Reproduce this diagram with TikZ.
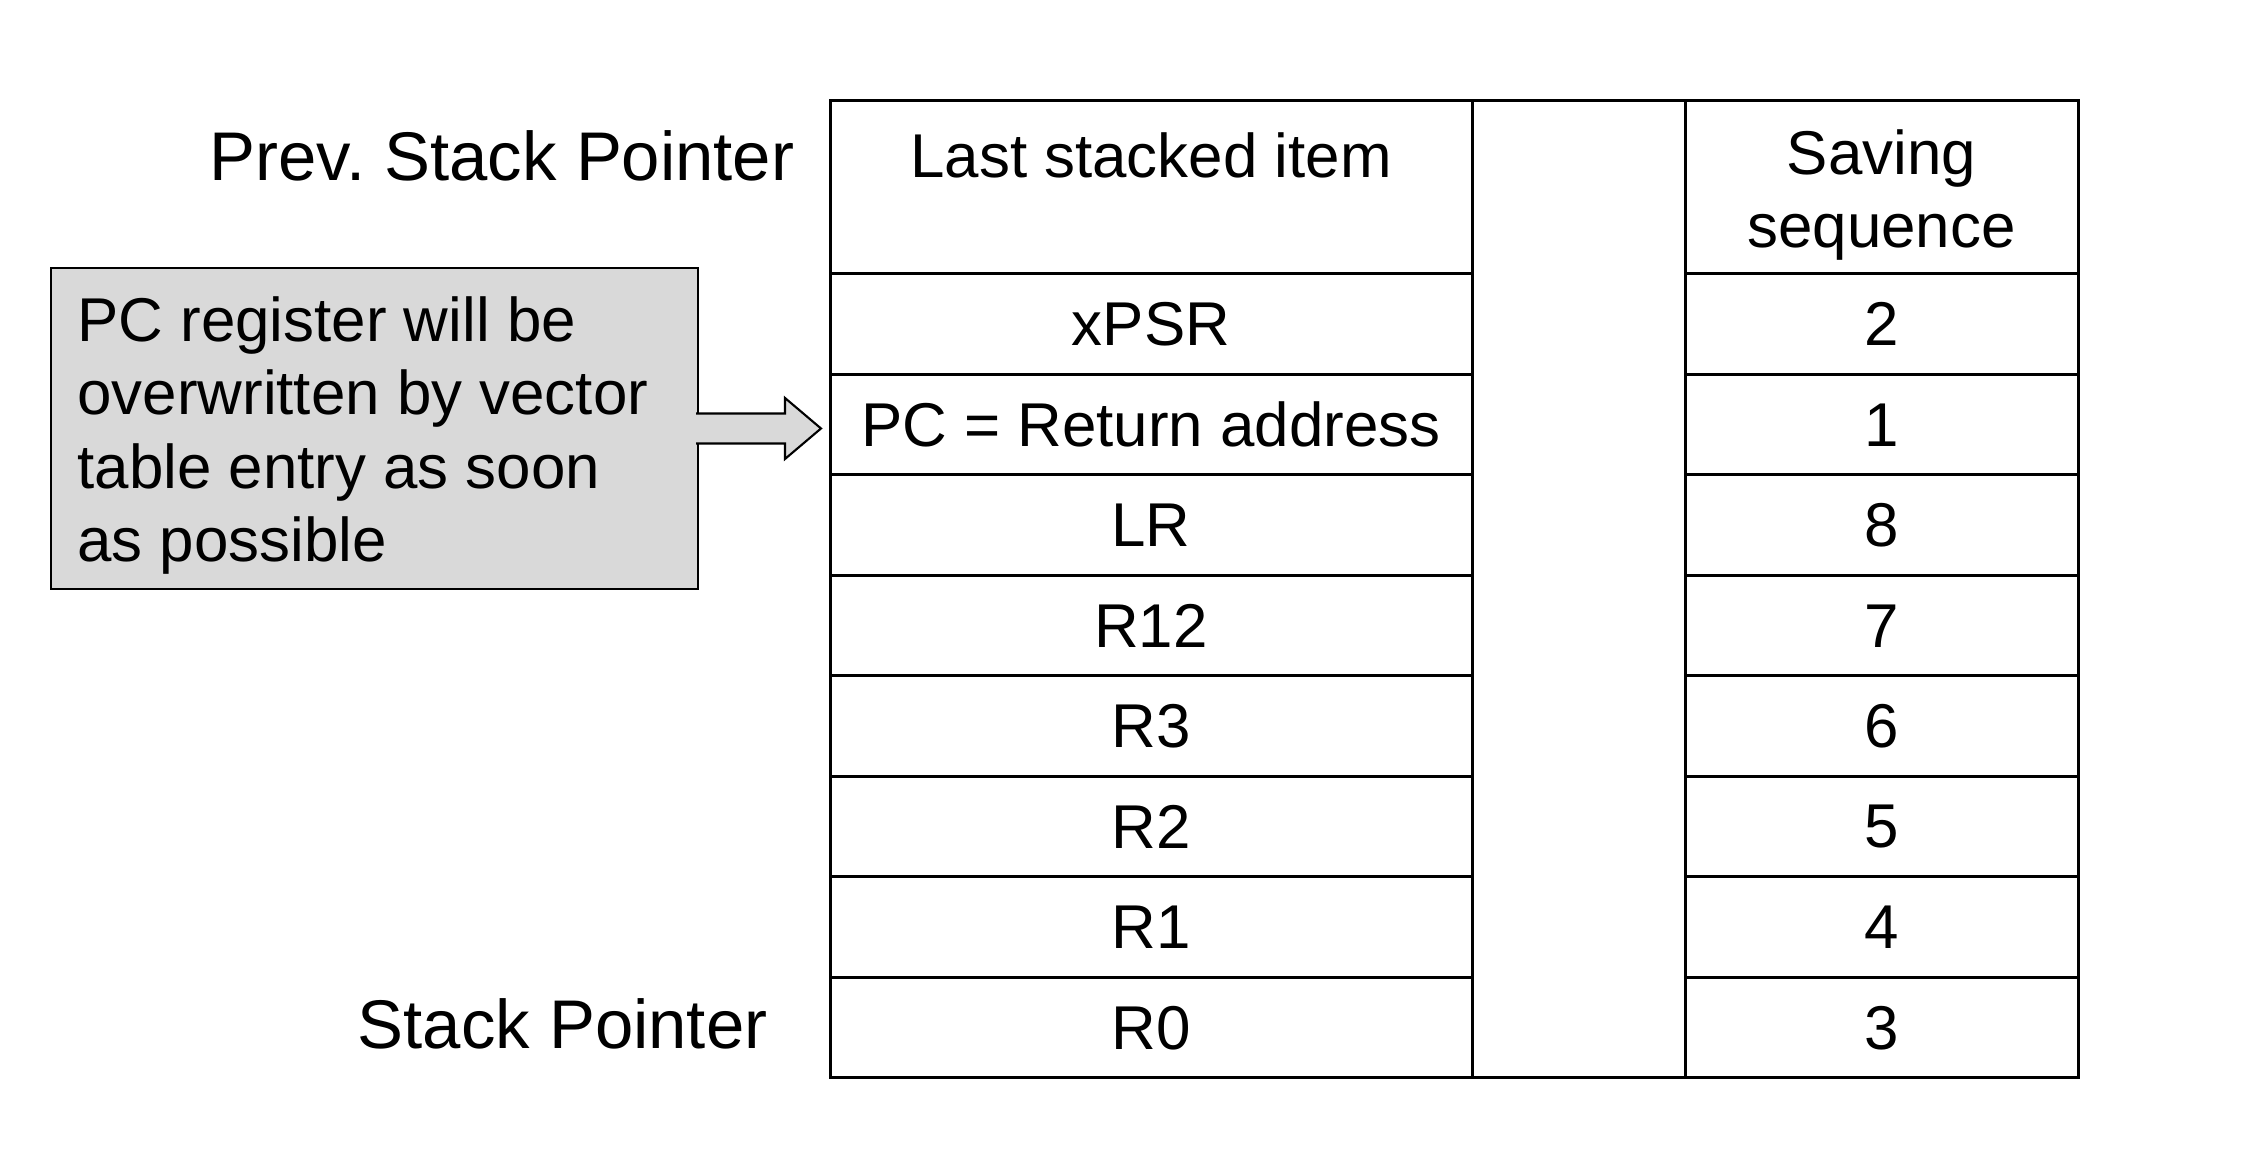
\documentclass[tikz,border=0pt]{standalone}
\usepackage{fontspec}
\setmainfont{Liberation Sans}
\usetikzlibrary{positioning, calc}
\definecolor{boxgray}{HTML}{D9D9D9}

\begin{document}
\begin{tikzpicture}[
    cell/.style={draw, line width=0.85pt, inner sep=0pt, outer sep=0pt, minimum height=1.005cm},
    itemcell/.style={cell, minimum width=6.42cm},
    seqcell/.style={cell, minimum width=3.93cm},
    tabtext/.style={font=\fontsize{17.6pt}{20.9pt}\selectfont},
    sptext/.style={font=\fontsize{19.6pt}{23pt}\selectfont, inner sep=0pt},
    notebox/.style={draw, line width=0.7pt, fill=boxgray, minimum width=6.47cm, minimum height=3.21cm, inner sep=0pt},
    blockarrow/.style={draw, line width=0.6pt, fill=boxgray}
]
\useasboundingbox (0,0) rectangle (22.45,11.58);

% header row and the empty middle column
\node[itemcell, minimum height=1.73cm] (hitem) at (11.51,9.705) {};
\node[cell, minimum width=2.13cm, minimum height=9.77cm] (gap) at (15.785,5.685) {};
\node[seqcell, minimum height=1.73cm] (hseq) at (18.815,9.705) {};
\node[tabtext, anchor=north, inner sep=0pt] (hitemtxt) at ([yshift=-0.31cm]hitem.north) {Last stacked item};
\node[tabtext, anchor=north, inner sep=0pt, align=center] (hseqtxt) at ([yshift=-0.28cm]hseq.north) {Saving\\sequence};

% stacked registers
\foreach \reg/\seq [count=\i] in {xPSR/2, PC = Return address/1, LR/8, R12/7, R3/6, R2/5, R1/4, R0/3} {
    \node[itemcell, tabtext] (item\i) at (11.51, 8.84-1.005*\i+0.5025) {\reg};
    \node[seqcell, tabtext] (seq\i) at (18.815, 8.84-1.005*\i+0.5025) {\seq};
}

\node[sptext, anchor=base east] (prevsp) at (7.95,9.77) {Prev.\ Stack Pointer};
\node[sptext, anchor=base west] (sp) at (3.57,1.09) {Stack Pointer};

% note with block arrow
\node[notebox] (note) at (3.745,7.295) {};
\node[tabtext, anchor=north west, inner sep=0pt, align=left] (notetxt) at ([xshift=0.27cm, yshift=-0.29cm]note.north west) {PC register will be\\overwritten by vector\\table entry as soon\\as possible};
\path (note.east -| item2.west) ++(-0.09,0) coordinate (tip);
\draw[blockarrow] ([xshift=-0.03cm, yshift=0.15cm]note.east) -- ([xshift=-0.36cm, yshift=0.15cm]tip)
    -- ([xshift=-0.36cm, yshift=0.305cm]tip) -- (tip) -- ([xshift=-0.36cm, yshift=-0.305cm]tip)
    -- ([xshift=-0.36cm, yshift=-0.15cm]tip) -- ([xshift=-0.03cm, yshift=-0.15cm]note.east);
\end{tikzpicture}
\end{document}
